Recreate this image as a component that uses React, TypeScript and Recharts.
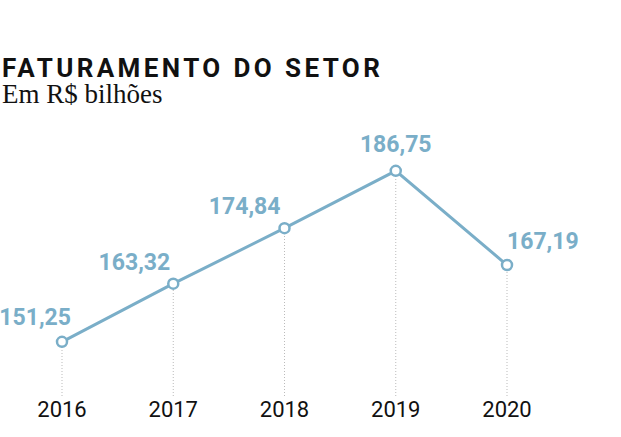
import React from 'react';
import { LineChart, Line, XAxis, YAxis, ReferenceLine, LabelList } from 'recharts';

const years = ['2016', '2017', '2018', '2019', '2020'];
const revenue = [151.25, 163.32, 174.84, 186.75, 167.19];
const valueLabels = ['151,25', '163,32', '174,84', '186,75', '167,19'];

// where each value label sits relative to its point: [anchor, dx, dy]
const labelPlacement: [string, number, number][] = [
  ['end', 9, -17],
  ['end', -3, -14],
  ['end', -4, -14],
  ['middle', 0, -19],
  ['start', 0, -16],
];

const data = years.map((year, i) => ({ year, value: revenue[i], label: valueLabels[i] }));

const BLUE = '#7aaec8';
const FONT = 'Roboto, "Noto Sans", sans-serif';

const ValueLabel = (props: any) => {
  const { x, y, index } = props;
  const [anchor, dx, dy] = labelPlacement[index];
  return (
    <text
      x={x + dx}
      y={y + dy}
      textAnchor={anchor as any}
      fill={BLUE}
      fontFamily={FONT}
      fontWeight={700}
      fontSize={23}
    >
      {valueLabels[index]}
    </text>
  );
};

const YearTick = (props: any) => {
  const { x, y, payload } = props;
  return (
    <text x={x} y={y + 13} textAnchor="middle" fill="#111" fontFamily={FONT} fontSize={22}>
      {payload.value}
    </text>
  );
};

export default function App() {
  return (
    <div style={{ position: 'absolute', left: 0, top: 0, width: 621, height: 437, background: '#fff' }}>
      <div
        style={{
          position: 'absolute',
          left: 2,
          top: 55,
          fontFamily: FONT,
          fontWeight: 700,
          fontSize: 26,
          lineHeight: '26px',
          letterSpacing: 3.4,
          color: '#111',
          whiteSpace: 'nowrap',
        }}
      >
        FATURAMENTO DO SETOR
      </div>
      <div
        style={{
          position: 'absolute',
          left: 2,
          top: 83,
          fontFamily: '"Liberation Serif", serif',
          fontSize: 27,
          lineHeight: '22px',
          color: '#111',
          whiteSpace: 'nowrap',
        }}
      >
        Em R$ bilhões
      </div>
      <div style={{ position: 'absolute', left: 0, top: 0 }}>
        <LineChart width={621} height={437} data={data} margin={{ top: 107, right: 114, left: 62, bottom: 11 }}>
          <XAxis dataKey="year" axisLine={false} tickLine={false} height={30} tick={<YearTick />} interval={0} />
          <YAxis hide domain={[140, 200]} />
          {data.map((d) => (
            <ReferenceLine
              key={d.year}
              segment={[
                { x: d.year, y: 140 },
                { x: d.year, y: d.value },
              ]}
              stroke="#bbb"
              strokeDasharray="1 2"
            />
          ))}
          <Line
            type="linear"
            dataKey="value"
            stroke={BLUE}
            strokeWidth={3}
            dot={{ r: 5, fill: '#fff', stroke: BLUE, strokeWidth: 2.5 }}
            isAnimationActive={false}
          >
            <LabelList dataKey="label" content={<ValueLabel />} />
          </Line>
        </LineChart>
      </div>
    </div>
  );
}
